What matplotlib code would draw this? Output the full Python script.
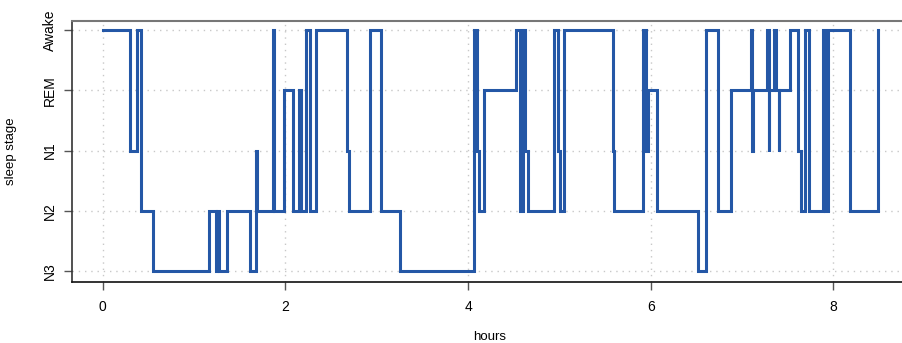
import matplotlib
matplotlib.use("Agg")
import matplotlib.pyplot as plt

plt.rcParams['font.family'] = ['Liberation Sans', 'DejaVu Sans']

stage_labels = ["N3", "N2", "N1", "REM", "Awake"]
stage_codes = {"N3": 0, "N2": 1, "N1": 2, "REM": 3, "Awake": 4}

times = [0.00, 0.30, 0.38, 0.42, 0.55, 1.16, 1.24, 1.255, 1.27, 1.36,
         1.61, 1.68, 1.69, 1.86, 1.88, 1.99, 2.08, 2.15, 2.17, 2.23,
         2.27, 2.34, 2.675, 2.70, 2.93, 3.05, 3.25, 4.06, 4.10, 4.115,
         4.18, 4.52, 4.57, 4.60, 4.62, 4.655, 4.94, 4.98, 5.01, 5.05,
         5.585, 5.60, 5.92, 5.95, 5.965, 6.07, 6.52, 6.60, 6.74, 6.875,
         7.10, 7.11, 7.12, 7.27, 7.29, 7.30, 7.355, 7.375, 7.40, 7.41,
         7.53, 7.615, 7.64, 7.69, 7.73, 7.89, 7.91, 7.94, 8.18, 8.49]
stages = ["Awake", "N1", "Awake", "N2", "N3", "N2", "N3", "N2", "N3", "N2",
          "N3", "N1", "N2", "Awake", "N2", "REM", "N2", "REM", "N2", "Awake",
          "N2", "Awake", "N1", "N2", "Awake", "N2", "N3", "Awake", "N1", "N2",
          "REM", "Awake", "N2", "Awake", "N1", "N2", "Awake", "N1", "N2", "Awake",
          "N1", "N2", "Awake", "N1", "REM", "N2", "N3", "Awake", "N2", "REM",
          "Awake", "N1", "REM", "Awake", "N1", "REM", "Awake", "REM", "N1", "REM",
          "Awake", "N1", "N2", "Awake", "N2", "Awake", "N2", "Awake", "N2", "Awake"]
x_ticks = [0, 2, 4, 6, 8]

fig = plt.figure(figsize=(9.02, 3.43), dpi=100)
ax_w = 1 - 72/902 + 0.01
ax = fig.add_axes([72/902, 61.5/343, ax_w, 261/343])

y = [stage_codes[s] for s in stages]
ax.plot(times, y, drawstyle='steps-post', color='#2457A6', lw=2.2,
        solid_joinstyle='miter', zorder=3)

ax.set_xlim(-0.336, 8.85)
ax.set_ylim(-0.174, 4.158)

ax.set_xticks(x_ticks)
ax.set_xticklabels([str(t) for t in x_ticks], fontsize=10)
ax.set_yticks(range(len(stage_labels)))
ax.set_yticklabels(stage_labels, fontsize=10, rotation=90, va='center')

ax.grid(True, color='#c8c8c8', linestyle=(0, (1, 3.5)), lw=1)
ax.tick_params(axis='both', direction='out', length=6, width=1, color='#555555')
ax.tick_params(axis='x', pad=7)
ax.tick_params(axis='y', pad=5)

ax.spines['right'].set_visible(False)
ax.spines['top'].set_color('#777777')
ax.spines['top'].set_linewidth(1.5)
ax.spines['left'].set_color('#333333')
ax.spines['bottom'].set_color('#111111')
ax.spines['left'].set_linewidth(1.2)
ax.spines['bottom'].set_linewidth(1.2)

ax.set_xlabel('hours', fontsize=9.5)
ax.set_ylabel('sleep stage', fontsize=9.5)
ax.xaxis.set_label_coords((490 - 72) / (902 * ax_w), -0.19)
ax.yaxis.set_label_coords(-(72 - 17) / (902 * ax_w), 0.5)

fig.savefig('out.png', dpi=100)
